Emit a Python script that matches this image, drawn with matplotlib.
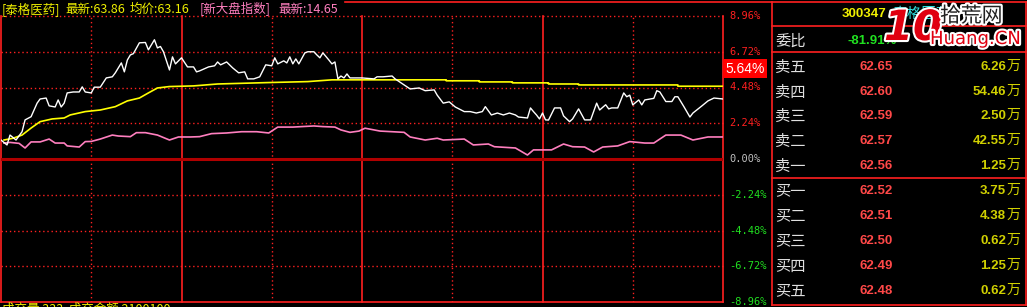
import matplotlib
matplotlib.use("Agg")
import matplotlib.pyplot as plt
import matplotlib.patheffects as pe

plt.rcParams['font.family'] = ['Noto Sans CJK SC', 'DejaVu Sans']

# ---------------- data ----------------
price_min = [0, 2, 3, 5, 7, 8, 10, 12, 13, 15, 16, 18, 19, 20, 21, 22, 24, 26, 27, 28, 30, 31, 33, 35, 37, 38,
             40, 41, 42, 43, 44, 46, 48, 49, 50, 51, 52, 53, 54, 56, 57, 58, 60, 62, 64, 65, 66, 69, 71, 72,
             73, 75, 77, 79, 81, 82, 84, 86, 88, 90, 91, 92, 94, 95, 96, 97, 98, 99, 101, 102, 104, 105, 106,
             107, 109, 110, 111, 112, 113, 114, 115, 116, 120, 124, 125, 127, 130, 131, 134, 136, 139, 141,
             144, 145, 147, 149, 151, 154, 156, 158, 160, 161, 163, 165, 167, 169, 171, 172, 175, 176, 177,
             178, 179, 180, 181, 182, 184, 186, 187, 189, 190, 192, 194, 196, 198, 199, 201, 202, 203, 205,
             207, 208, 209, 210, 212, 213, 214, 217, 218, 219, 221, 223, 224, 225, 227, 229, 230, 233, 235,
             237, 240]
price_pct = [1.19, 0.88, 1.50, 1.19, 1.71, 2.45, 2.65, 3.50, 3.76, 3.82, 3.33, 3.26, 3.70, 3.26, 3.50, 4.14,
             4.20, 4.20, 4.52, 4.20, 4.14, 4.50, 4.50, 5.08, 5.15, 5.40, 6.02, 5.46, 6.20, 6.52, 6.60, 7.28,
             7.30, 6.84, 7.15, 7.47, 6.96, 7.05, 6.72, 5.58, 6.40, 5.96, 6.34, 5.77, 5.77, 5.46, 5.52, 5.77,
             5.84, 6.08, 5.90, 6.08, 5.71, 5.40, 5.46, 5.02, 5.02, 5.15, 5.90, 5.84, 6.34, 5.96, 6.15, 6.02,
             6.40, 5.96, 6.27, 5.96, 6.65, 6.72, 6.72, 6.52, 6.34, 6.65, 6.20, 5.96, 6.08, 5.02, 5.20, 5.08,
             5.33, 5.08, 5.08, 5.02, 5.15, 5.15, 5.20, 5.02, 4.64, 4.39, 4.45, 4.28, 4.33, 4.00, 3.50, 3.58,
             3.26, 2.97, 2.97, 2.88, 2.97, 3.28, 2.76, 2.88, 2.76, 2.88, 2.76, 2.63, 2.57, 3.20, 2.97, 2.76,
             2.51, 2.88, 2.45, 2.44, 3.20, 3.20, 2.70, 2.34, 2.51, 3.14, 2.45, 2.45, 3.50, 3.07, 3.40, 3.14,
             3.20, 3.20, 4.14, 3.90, 4.00, 3.39, 3.70, 3.39, 3.70, 3.80, 4.28, 4.20, 3.60, 3.60, 3.90, 3.90,
             3.28, 2.63, 2.88, 3.33, 3.64, 3.82, 3.76]

avg_min = [1, 4, 7, 10, 13, 17, 21, 23, 28, 33, 38, 42, 46, 49, 52, 56, 64, 72, 89, 102, 110, 148, 148, 159,
           159, 170, 170, 182, 182, 192, 192, 225, 225, 240]
avg_pct = [1.19, 1.30, 1.50, 1.94, 2.34, 2.51, 2.57, 2.76, 2.97, 3.07, 3.28, 3.64, 3.82, 4.14, 4.45, 4.54,
           4.58, 4.70, 4.79, 4.85, 4.96, 4.96, 4.90, 4.90, 4.83, 4.83, 4.77, 4.77, 4.70, 4.70, 4.64, 4.64,
           4.56, 4.56]

index_min = [1, 3, 6, 8, 10, 13, 16, 18, 21, 22, 26, 28, 30, 33, 37, 39, 43, 45, 48, 52, 56, 59, 63, 66, 70,
             75, 80, 85, 89, 92, 97, 104, 107, 111, 113, 116, 119, 121, 126, 134, 136, 141, 145, 147, 154,
             157, 162, 164, 171, 175, 177, 183, 187, 190, 194, 197, 200, 205, 209, 214, 217, 221, 226, 230,
             235, 240]
index_pct = [1.00, 1.04, 0.98, 0.69, 1.07, 1.07, 1.25, 1.00, 1.00, 0.82, 0.75, 1.09, 1.10, 1.25, 1.50, 1.44,
             1.40, 1.65, 1.65, 1.50, 1.19, 1.38, 1.38, 1.40, 1.59, 1.63, 1.71, 1.71, 1.63, 2.00, 2.00, 2.07,
             2.03, 2.00, 1.82, 1.67, 1.75, 1.93, 1.75, 1.67, 1.38, 1.19, 1.30, 1.19, 1.25, 0.88, 0.94, 0.77,
             0.69, 0.25, 0.57, 0.57, 0.94, 0.77, 0.75, 0.44, 0.75, 0.82, 1.09, 1.00, 1.00, 1.50, 1.50, 1.19,
             1.38, 1.38]

axis_levels = [8.96, 6.72, 4.48, 2.24, 0.00, -2.24, -4.48, -6.72, -8.96]
axis_labels = ["8.96%", "6.72%", "4.48%", "2.24%", "0.00%", "-2.24%", "-4.48%", "-6.72%", "-8.96%"]
last_pct = 5.64
last_label = "5.64%"

stock_name = "泰格医药"
stock_code = "300347"
header_items = ["[泰格医药]", "最新:63.86", "均价:63.16", "[新大盘指数]", "最新:14.65"]
footer_text = "成交量 333  成交金额 2100100"

weibi_label = "委比"
weibi_value = "-81.91%"
book_labels = ["卖五", "卖四", "卖三", "卖二", "卖一", "买一", "买二", "买三", "买四", "买五"]
book_prices = ["62.65", "62.60", "62.59", "62.57", "62.56", "62.52", "62.51", "62.50", "62.49", "62.48"]
book_vols = ["6.26", "54.46", "2.50", "42.55", "1.25", "3.75", "4.38", "0.62", "1.25", "0.62"]

# ---------------- figure ----------------
W, H = 1027, 307
fig = plt.figure(figsize=(W / 100, H / 100), dpi=100, facecolor='black')

RED = '#ff2020'
ax = fig.add_axes([1 / W, (H - 302) / H, 722 / W, 286 / H])
ax.set_facecolor('black')
ax.set_xlim(0, 240)
ax.set_ylim(-8.96, 8.96)
for s in ax.spines.values():
    s.set_visible(False)
ax.set_xticks([])
ax.set_yticks([])

dot = (0, (1, 2))
for lv in axis_levels:
    if lv == 0:
        continue
    if lv == -8.96:
        ax.axhline(lv, color=RED, lw=1.2, clip_on=False)
    else:
        ax.axhline(lv, color=RED, lw=1, ls=dot, clip_on=False)
for m in [30, 90, 150, 210]:
    ax.axvline(m, color=RED, lw=1, ls=dot)
for m in [0, 60, 120, 180, 240]:
    ax.axvline(m, color=RED, lw=1.2, clip_on=False)
ax.axhline(0, color='#b00000', lw=2.2)

ax.plot(avg_min, avg_pct, color='#ffff00', lw=1.2)
ax.plot(index_min, index_pct, color='#ff7fbf', lw=1.2)
ax.plot(price_min, price_pct, color='white', lw=1.0)

ytr = ax.get_yaxis_transform()
for lv, lab in zip(axis_levels, axis_labels):
    col = RED if lv > 0 else ('#c0c0c0' if lv == 0 else '#20e020')
    ax.annotate(lab, xy=(1, lv), xycoords=ytr, xytext=(6, 0), textcoords='offset pixels',
                va='center', ha='left', color=col, fontsize=7.5, family='DejaVu Sans Mono',
                annotation_clip=False)
ax.annotate(last_label, xy=(1, last_pct), xycoords=ytr, xytext=(22, 0), textcoords='offset pixels',
            va='center', ha='center', color='white', fontsize=10, family='Liberation Sans',
            bbox=dict(boxstyle='square,pad=0.18', fc='#ff0000', ec='none'), annotation_clip=False)

# ---------------- overlay (header, order book) ----------------
ov = fig.add_axes([0, 0, 1, 1])
ov.set_xlim(0, W)
ov.set_ylim(H, 0)
ov.axis('off')

hx = [2, 65, 130, 200, 278]
hc = ['#f0f000', '#f0f000', '#f0f000', '#ff7fbf', '#ff7fbf']
for x, t, c in zip(hx, header_items, hc):
    ov.text(x, 9.5, t, color=c, fontsize=9, va='center', ha='left')

ov.text(2, 303, footer_text, color='#f0f000', fontsize=9, va='top', ha='left')

# top line & right panel borders
ov.plot([345, W], [2, 2], color=RED, lw=1.2)
ov.plot([772, 772], [2, 305], color=RED, lw=1.2)
ov.plot([1025.5, 1025.5], [2, 305], color=RED, lw=1.2)
ov.plot([772, 1026], [305, 305], color=RED, lw=1.2)
for yy in [26, 52, 178]:
    ov.plot([772, 1026], [yy, yy], color=RED, lw=1.2)

ov.text(842, 14, stock_code, color='#f0f000', fontsize=9.5, family='Liberation Sans',
        weight='bold', va='center', ha='left')
ov.text(892, 14, stock_name, color='#30e0e0', fontsize=10.5, va='center', ha='left')

ov.text(775, 41, weibi_label, color='#e0e0e0', fontsize=11, va='center', ha='left')
ov.text(847, 41, weibi_value, color='#20e020', fontsize=9.5, family='Liberation Sans',
        weight='bold', va='center', ha='left')

row_y = [67, 92, 116, 141, 166, 191, 216, 241, 266, 291]
for y, lab, pr, vo in zip(row_y, book_labels, book_prices, book_vols):
    ov.text(775, y, lab, color='#e0e0e0', fontsize=11, va='center', ha='left')
    ov.text(893, y, pr, color='#ff4848', fontsize=9.5, family='Liberation Sans',
            weight='bold', va='center', ha='right')
    ov.text(1006, y, vo, color='#d0d000', fontsize=9.5, family='Liberation Sans',
            weight='bold', va='center', ha='right')
    ov.text(1007, y - 1, "万", color='#d0d000', fontsize=10, va='center', ha='left')

# watermark
stroke = [pe.withStroke(linewidth=3, foreground='white')]
ov.text(884, 28, "10", color='#e00010', fontsize=30, weight='bold', style='italic',
        family='DejaVu Sans', va='center', ha='left', path_effects=stroke)
ov.text(940, 16, "拾荒网", color='#202020', fontsize=15, va='center', ha='left',
        path_effects=stroke)
ov.text(930, 39, "Huang.CN", color='#e00010', fontsize=13, family='DejaVu Sans',
        va='center', ha='left', path_effects=stroke)

fig.savefig('out.png', dpi=100, facecolor='black')
